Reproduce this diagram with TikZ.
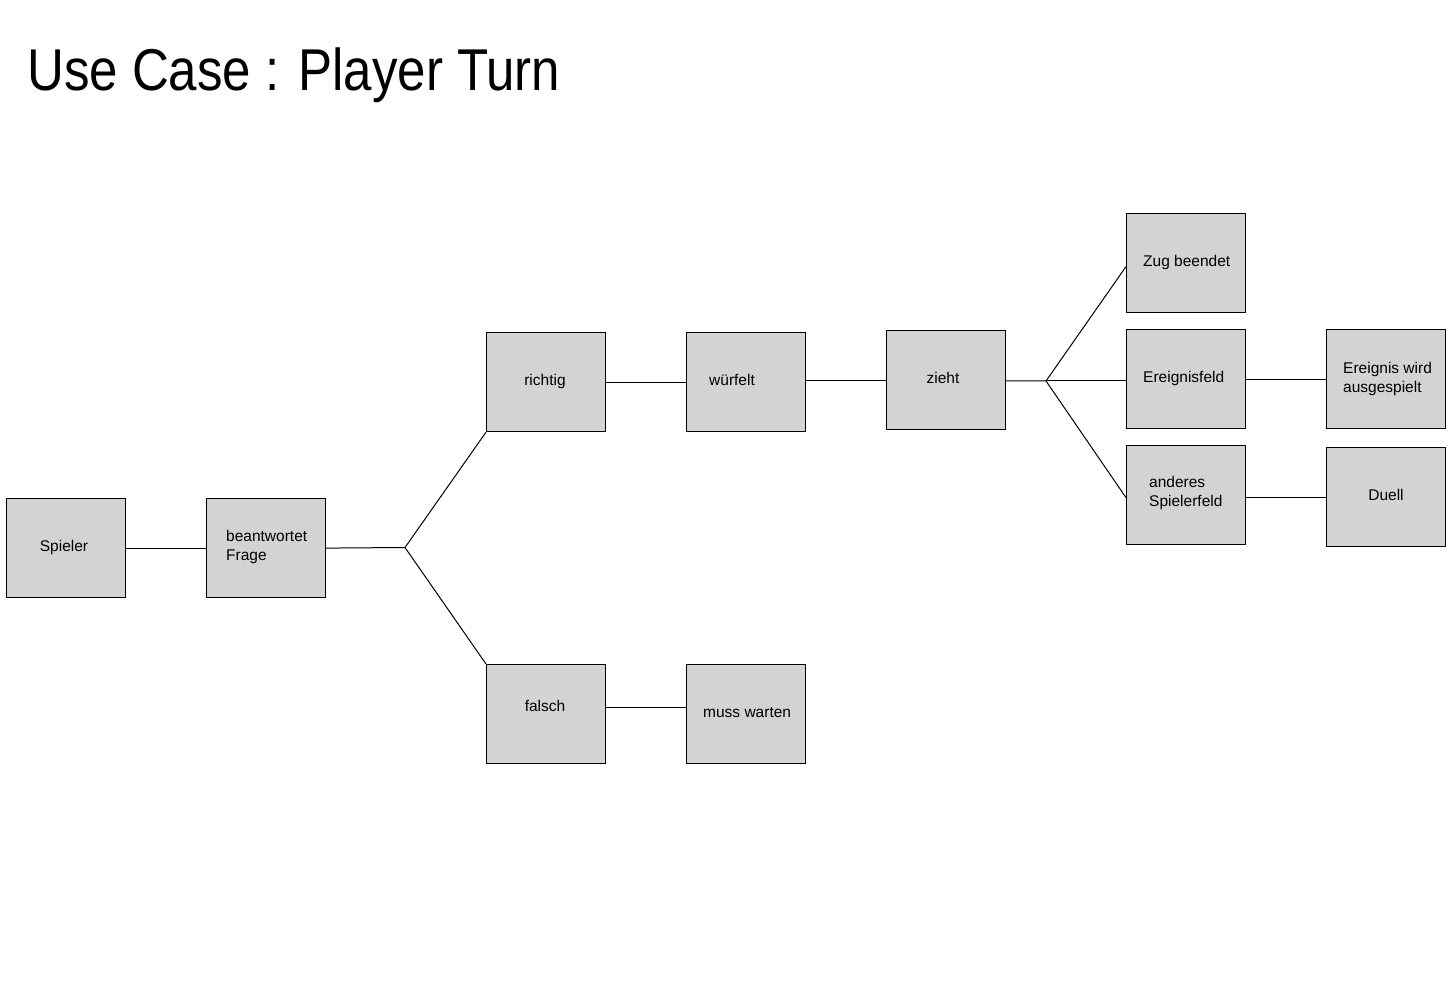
\documentclass[tikz,border=0pt]{standalone}
\usepackage{fontspec}
\setmainfont{Liberation Sans}
\newfontfamily\titlefont[FakeStretch=0.865]{Liberation Sans}
\definecolor{boxgray}{HTML}{D3D3D3}
\begin{document}
\begin{tikzpicture}[x=1pt,y=-1pt,
  box/.style={draw=black, fill=boxgray, line width=1.2pt, minimum width=119pt, minimum height=99pt, inner sep=0pt, anchor=north west},
  lbl/.style={font=\fontsize{15.5}{19}\selectfont, inner sep=0pt, align=left},
  conn/.style={draw=black, line width=1pt}]
\useasboundingbox (0,0) rectangle (1452,1000);
\node[anchor=base west, inner sep=0pt, font=\titlefont\fontsize{59}{70}\selectfont] (title) at (27,91) {Use Case : Player Turn};
% boxes
\node[box] (spieler) at (6,498) {};
\node[box] (frage) at (206,498) {};
\node[box] (richtig) at (486,332) {};
\node[box] (wuerfelt) at (686,332) {};
\node[box] (zieht) at (886,330) {};
\node[box] (zug) at (1126,213) {};
\node[box] (ereig) at (1126,329) {};
\node[box] (ausg) at (1326,329) {};
\node[box] (anderes) at (1126,445) {};
\node[box] (duell) at (1326,447) {};
\node[box] (falsch) at (486,664) {};
\node[box] (muss) at (686,664) {};
% labels
\node[lbl, anchor=mid] (tspieler) at (64,549) {Spieler};
\node[lbl, anchor=west] (tfrage) at (226,546.5) {beantwortet\\Frage};
\node[lbl, anchor=mid] (trichtig) at (545,383) {richtig};
\node[lbl, anchor=mid west] (twuerfelt) at (709,383) {würfelt};
\node[lbl, anchor=mid] (tzieht) at (943,381) {zieht};
\node[lbl, anchor=mid west] (tzug) at (1143,264) {Zug beendet};
\node[lbl, anchor=mid west] (tereig) at (1143,380) {Ereignisfeld};
\node[lbl, anchor=west] (tausg) at (1343,378.5) {Ereignis wird\\ausgespielt};
\node[lbl, anchor=west] (tanderes) at (1149,492.5) {anderes\\Spielerfeld};
\node[lbl, anchor=mid] (tduell) at (1386,498) {Duell};
\node[lbl, anchor=mid] (tfalsch) at (545,709) {falsch};
\node[lbl, anchor=mid west] (tmuss) at (703,715) {muss warten};
% connectors
\coordinate (b1) at (405,547.5);
\coordinate (b2) at (1046,381);
\draw[conn] (spieler.east) -- (frage.west);
\draw[conn] (frage.east) -- (b1) -- (richtig.south west);
\draw[conn] (b1) -- (falsch.north west);
\draw[conn] (richtig.east) -- (wuerfelt.west);
\draw[conn] (wuerfelt.east |- zieht.west) -- (zieht.west);
\draw[conn] (b2 -| zieht.east) -- (b2) -- ([yshift=-3.5pt]zug.west);
\draw[conn] (b2) -- (b2 -| ereig.west);
\draw[conn] (b2) -- ([yshift=-2.5pt]anderes.west);
\draw[conn] (ereig.east) -- (ausg.west);
\draw[conn] (anderes.east |- duell.west) -- (duell.west);
\draw[conn] ([yshift=6.5pt]falsch.east) -- ([yshift=6.5pt]muss.west);
\end{tikzpicture}
\end{document}
